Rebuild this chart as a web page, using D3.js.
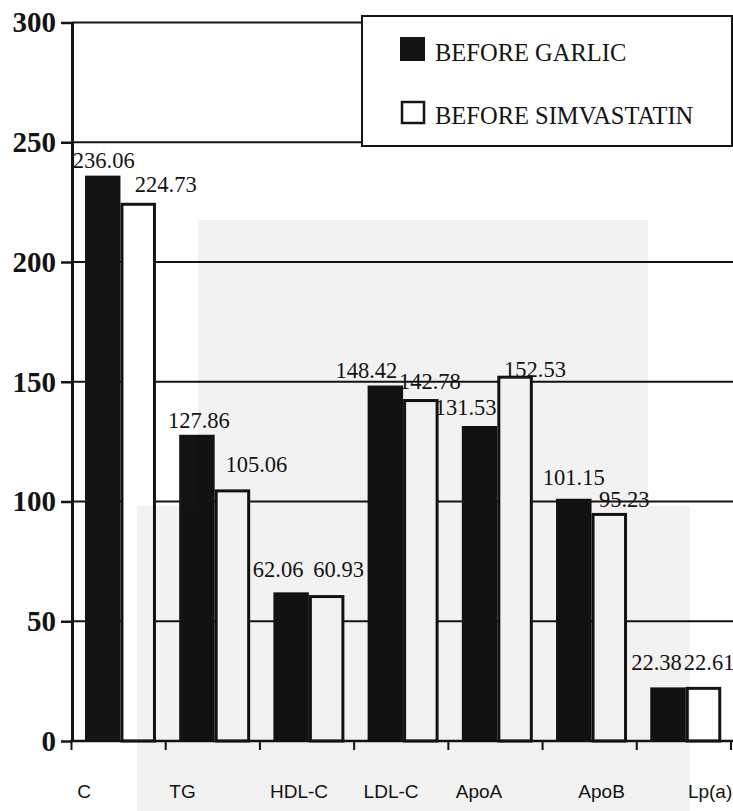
<!DOCTYPE html>
<html>
<head>
<meta charset="utf-8">
<script src="https://cdn.jsdelivr.net/npm/d3@7"></script>
<style>
  html, body { margin: 0; padding: 0; background: #fff; }
  svg { display: block; }
</style>
</head>
<body>
<svg id="chart" width="733" height="811"></svg>
<script>
// Lipid profile means before each treatment
const categories = ["C", "TG", "HDL-C", "LDL-C", "ApoA", "ApoB", "Lp(a)"];
const seriesNames = ["BEFORE GARLIC", "BEFORE SIMVASTATIN"];
const beforeGarlic = [236.06, 127.86, 62.06, 148.42, 131.53, 101.15, 22.38];
const beforeSimvastatin = [224.73, 105.06, 60.93, 142.78, 152.53, 95.23, 22.61];
const yTicks = [0, 50, 100, 150, 200, 250, 300];

(function draw() {
  const rows = categories.map((c, i) => ({
    cat: c,
    values: [
      { key: seriesNames[0], value: beforeGarlic[i] },
      { key: seriesNames[1], value: beforeSimvastatin[i] }
    ]
  }));

  const svg = d3.select("#chart");
  const ink = "#141414";
  const plotLeft = 72, plotRight = 733, plotBottom = 741, plotTop = 22.5;

  const y = d3.scaleLinear().domain([0, 300]).range([plotBottom, plotTop]);
  const x0 = d3.scaleBand().domain(categories).range([71.5, 731]);
  const x1 = d3.scaleBand().domain(seriesNames).range([0, x0.bandwidth()])
    .paddingInner(0).paddingOuter(0.327).align(0.58);

  // horizontal gridlines behind the bars
  svg.append("g").selectAll("line")
    .data(yTicks.filter(t => t > 0))
    .join("line")
    .attr("x1", plotLeft).attr("x2", plotRight)
    .attr("y1", d => y(d)).attr("y2", d => y(d))
    .attr("stroke", ink).attr("stroke-width", 2);

  // bars
  const groups = svg.append("g").selectAll("g")
    .data(rows).join("g")
    .attr("transform", d => `translate(${x0(d.cat)},0)`);

  const isGarlic = d => d.key === seriesNames[0];
  groups.selectAll("rect")
    .data(d => d.values)
    .join("rect")
    .attr("x", d => isGarlic(d) ? x1(d.key) : x1(d.key) + 1.5)
    .attr("y", d => isGarlic(d) ? y(d.value) : y(d.value) + 1.5)
    .attr("width", d => isGarlic(d) ? x1.bandwidth() : x1.bandwidth() - 3)
    .attr("height", d => isGarlic(d) ? plotBottom - y(d.value) : plotBottom - y(d.value) - 1.5)
    .attr("fill", d => isGarlic(d) ? ink : "#fff")
    .attr("stroke", d => isGarlic(d) ? "none" : ink)
    .attr("stroke-width", 3);

  // value labels: [dx from bar centre, gap above bar top]
  const garlicLabelNudge = [[1, 8], [2, 7], [-13, 15.5], [-19, 7.5], [-14, 10.7], [0, 13.6], [-11.5, 17]];
  const simvaLabelNudge = [[27.5, 10.6], [24, 17.5], [12, 18.3], [9, 10.5], [20, -1.3], [15, 6], [5.6, 17]];

  groups.each(function (d, i) {
    const g = d3.select(this);
    d.values.forEach((v, j) => {
      const nudge = j === 0 ? garlicLabelNudge[i] : simvaLabelNudge[i];
      g.append("text")
        .attr("x", x1(v.key) + x1.bandwidth() / 2 + nudge[0])
        .attr("y", y(v.value) - nudge[1])
        .attr("text-anchor", "middle")
        .attr("font-family", "'Liberation Serif', 'Times New Roman', serif")
        .attr("font-size", 22.5)
        .attr("fill", ink)
        .text(v.value.toFixed(2));
    });
  });

  // y axis
  const yAxis = svg.append("g")
    .attr("transform", `translate(${plotLeft},0)`)
    .call(d3.axisLeft(y).tickValues(yTicks).tickSize(11).tickSizeOuter(0).tickPadding(5));
  yAxis.select(".domain").attr("stroke", ink).attr("stroke-width", 3);
  yAxis.selectAll(".tick line").attr("stroke", ink).attr("stroke-width", 2.5);
  yAxis.selectAll(".tick text")
    .attr("font-family", "'Liberation Serif', 'Times New Roman', serif")
    .attr("font-weight", "bold")
    .attr("font-size", 29)
    .attr("fill", ink);

  // x axis with ticks on the band boundaries
  const xg = svg.append("g");
  xg.append("line")
    .attr("x1", plotLeft - 1.5).attr("x2", plotRight)
    .attr("y1", plotBottom).attr("y2", plotBottom)
    .attr("stroke", ink).attr("stroke-width", 2.5);
  const boundaries = categories.map(c => x0(c)).concat([x0.range()[1]]);
  xg.selectAll("line.tk")
    .data(boundaries)
    .join("line")
    .attr("class", "tk")
    .attr("x1", d => d).attr("x2", d => d)
    .attr("y1", plotBottom).attr("y2", plotBottom + 9)
    .attr("stroke", ink).attr("stroke-width", 2);

  const tickLabelNudge = [-34.4, -30.3, -8, -10.2, -16.4, 11.9, 26.2];
  xg.selectAll("text")
    .data(categories)
    .join("text")
    .attr("x", (d, i) => x0(d) + x0.bandwidth() / 2 + tickLabelNudge[i])
    .attr("y", 798)
    .attr("text-anchor", "middle")
    .attr("font-family", "'Liberation Sans', Arial, sans-serif")
    .attr("font-size", 19)
    .attr("fill", ink)
    .text(d => d);

  // legend
  const lg = svg.append("g");
  lg.append("rect")
    .attr("x", 362).attr("y", 16).attr("width", 370).attr("height", 130)
    .attr("fill", "#fff").attr("stroke", ink).attr("stroke-width", 2);
  lg.append("rect")
    .attr("x", 400).attr("y", 37).attr("width", 25).attr("height", 24)
    .attr("fill", ink);
  lg.append("rect")
    .attr("x", 402).attr("y", 102).attr("width", 22).attr("height", 21)
    .attr("fill", "#fff").attr("stroke", ink).attr("stroke-width", 2.5);
  lg.selectAll("text")
    .data(seriesNames)
    .join("text")
    .attr("x", 435)
    .attr("y", (d, i) => i === 0 ? 61 : 123.5)
    .attr("font-family", "'Liberation Serif', 'Times New Roman', serif")
    .attr("font-size", 24.5)
    .attr("fill", ink)
    .text(d => d);

  // faint seal printed over the middle of the page
  const seal = svg.append("g").attr("pointer-events", "none");
  seal.append("rect").attr("x", 198).attr("y", 220).attr("width", 450).attr("height", 591)
    .attr("fill", "#000").attr("opacity", 0.05);
  seal.append("rect").attr("x", 137).attr("y", 506).attr("width", 61).attr("height", 305)
    .attr("fill", "#000").attr("opacity", 0.05);
  seal.append("rect").attr("x", 648).attr("y", 506).attr("width", 42).attr("height", 305)
    .attr("fill", "#000").attr("opacity", 0.05);
})();
</script>
</body>
</html>
